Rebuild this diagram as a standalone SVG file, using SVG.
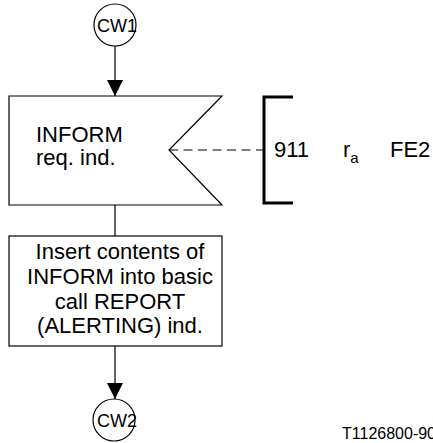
<svg xmlns="http://www.w3.org/2000/svg" width="433" height="443" viewBox="0 0 433 443">
<defs>
<style>
.ln{fill:none;stroke:#000;stroke-width:1.2}
.sh{fill:#fff;stroke:#000;stroke-width:1.2}
.t{font-family:"Liberation Sans",Arial,sans-serif;font-size:22px;fill:#000}
.c{font-family:"Liberation Sans",Arial,sans-serif;font-size:18px;fill:#000}
.m{text-anchor:middle}
</style>
<marker id="ah" viewBox="0 0 16 16" refX="16" refY="8" markerWidth="16" markerHeight="16" markerUnits="userSpaceOnUse" orient="auto">
<path d="M0,0 L16,8 L0,16 Z" fill="#000"/>
</marker>
</defs>
<g id="connectors">
<line class="ln" x1="115" y1="46" x2="115" y2="96" marker-end="url(#ah)"/>
<line class="ln" x1="115" y1="205" x2="115" y2="236"/>
<line class="ln" x1="115" y1="346" x2="115" y2="399" marker-end="url(#ah)"/>
<line class="ln" x1="169" y1="150" x2="264" y2="150" stroke-dasharray="9 5.5"/>
</g>
<g id="cw1">
<circle class="sh" cx="115" cy="25" r="21"/>
<text class="c" x="97" y="32">CW1</text>
</g>
<g id="inform">
<path class="sh" d="M9,96 L222,96 L169,150 L222,205 L9,205 Z"/>
<text class="t" x="36" y="142">INFORM</text>
<text class="t" x="36" y="165">req. ind.</text>
</g>
<g id="ref">
<path d="M293,97 L264,97 L264,203 L293,203" fill="none" stroke="#000" stroke-width="3"/>
<text class="t" x="274" y="157">911</text>
<text class="t" x="343" y="157">r<tspan font-size="15" dy="6">a</tspan></text>
<text class="t" x="390" y="157">FE2</text>
</g>
<g id="insert">
<rect class="sh" x="9" y="236" width="213" height="110"/>
<text class="t m" x="120" y="259">Insert contents of</text>
<text class="t m" x="120" y="284">INFORM into basic</text>
<text class="t m" x="120" y="308.5">call REPORT</text>
<text class="t m" x="120" y="333">(ALERTING) ind.</text>
</g>
<g id="cw2">
<circle class="sh" cx="114" cy="420" r="21"/>
<text class="c" x="97" y="426.5">CW2</text>
</g>
<text x="342" y="439" font-family="Liberation Sans, Arial, sans-serif" font-size="16">T1126800-90</text>
</svg>
